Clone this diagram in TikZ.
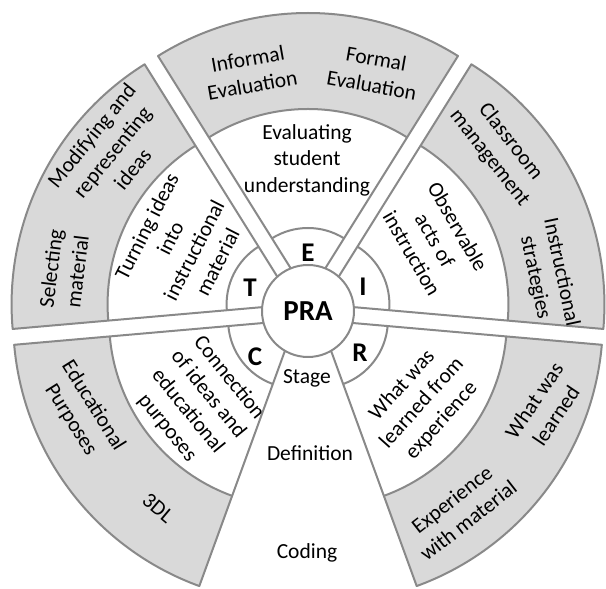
\documentclass[tikz,border=0pt]{standalone}
\usepackage{fontspec}
\setmainfont{Carlito}
\definecolor{segline}{RGB}{137,137,137}
\definecolor{segfill}{RGB}{217,217,217}
\tikzset{
  segedge/.style={draw=segline, line width=2pt, line join=round},
  txt/.style={align=center, inner sep=0pt, font=\fontsize{21.5}{26.5}\selectfont},
  letter/.style={inner sep=0pt, font=\fontsize{27}{30}\selectfont\bfseries},
  hub/.style={circle, draw=segline, line width=2pt, fill=white, minimum size=92pt, inner sep=0pt, font=\fontsize{29}{32}\selectfont\bfseries},
}
\newcommand{\drawseg}[2]{%
  \pgfmathsetmacro\segmid{(#1+#2)/2}%
  \begin{scope}[shift={(\segmid:15)}]
    \fill[white] (0,0) -- (#1:187) arc[start angle=#1, end angle=#2, radius=187] -- cycle;
    \fill[segfill] (#1:187) arc[start angle=#1, end angle=#2, radius=187] -- (#2:283) arc[start angle=#2, end angle=#1, radius=283] -- cycle;
    \draw[segedge] (0,0) -- (#1:283) arc[start angle=#1, end angle=#2, radius=283] -- cycle;
    \draw[segedge] (#1:187) arc[start angle=#1, end angle=#2, radius=187];
    \draw[segedge] (#1:68) arc[start angle=#1, end angle=#2, radius=68];
  \end{scope}}
\begin{document}
\begin{tikzpicture}[x=1pt,y=1pt]
\useasboundingbox (0,0) rectangle (606,589);
\begin{scope}[shift={(308,278)}]
  \drawseg{58}{122}
  \drawseg{122}{185}
  \drawseg{185}{250}
  \drawseg{290}{355}
  \drawseg{355}{418}
\end{scope}
\node[hub] (pra) at (308,278) {PRA};
% letters
\node[letter] (lE) at (308,336) {E};
\node[letter] (lT) at (250,301) {T};
\node[letter] (lI) at (363,302) {I};
\node[letter] (lC) at (255,232) {C};
\node[letter] (lR) at (360,236) {R};
% E segment
\node[txt] (eval) at (307,429) {Evaluating\\student\\understanding};
\node[txt, rotate=10] (informal) at (250,517) {Informal\\Evaluation};
\node[txt, rotate=-10] (formal) at (374,517) {Formal\\Evaluation};
% T segment
\node[txt, rotate=63] (turning) at (182,345) {Turning ideas\\into\\instructional\\material};
\node[txt, rotate=51] (modify) at (112,437) {Modifying and\\representing\\ideas};
\node[txt, rotate=83] (select) at (64,319) {Selecting\\material};
% C segment
\node[txt, rotate=-51] (connect) at (198,186) {Connection\\of ideas and\\educational\\purposes};
\node[txt, rotate=-58] (edpurp) at (82,176) {Educational\\Purposes};
\node[txt, rotate=-40] (tdl) at (158,81) {3DL};
% R segment
\node[txt, rotate=48] (learnexp) at (422,186) {What was\\learned from\\experience};
\node[txt, rotate=56] (learned) at (545,181) {What was\\learned};
\node[txt, rotate=38] (expmat) at (460,79) {Experience\\with material};
% I segment
\node[txt, rotate=-60] (observe) at (435,349) {Observable\\acts of\\instruction};
\node[txt, rotate=-52] (classroom) at (500,439) {Classroom\\management};
\node[txt, rotate=-78] (strategies) at (548,314) {Instructional\\strategies};
% legend wedge
\node[txt] (stage) at (307,211) {Stage};
\node[txt] (definition) at (310,136) {Definition};
\node[txt] (coding) at (307,36) {Coding};
\end{tikzpicture}
\end{document}
